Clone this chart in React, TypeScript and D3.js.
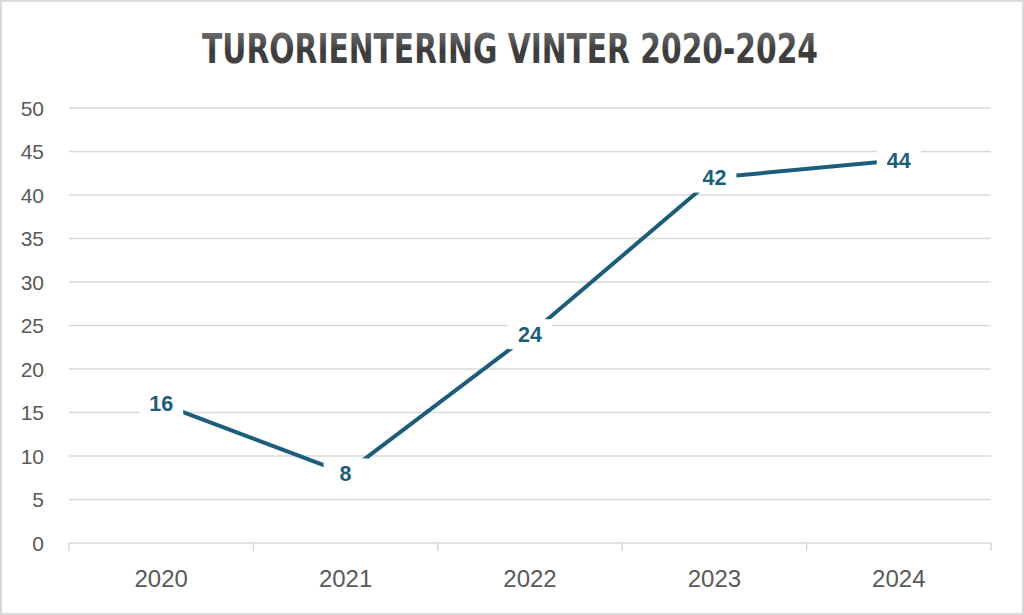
import React, { useEffect, useRef } from "react";
import * as d3 from "d3";

const categories = ["2020", "2021", "2022", "2023", "2024"];
const values = [16, 8, 24, 42, 44];
const yTicks = [0, 5, 10, 15, 20, 25, 30, 35, 40, 45, 50];
const title = "TURORIENTERING VINTER 2020-2024";

const W = 1024;
const H = 615;
const LINE_COLOR = "#1b5e7c";
const GRID = "#d9d9d9";
const TEXT = "#595959";

export default function App() {
  const ref = useRef<SVGSVGElement | null>(null);
  document.body.style.margin = "0";

  useEffect(() => {
    const svg = d3.select(ref.current);
    svg.selectAll("*").remove();

    const x0 = 69, x1 = 991, yTop = 108, yBot = 543;
    const x = d3.scaleBand().domain(categories).range([x0, x1]).padding(0);
    const y = d3.scaleLinear().domain([0, 50]).range([yBot, yTop]);
    const cx = (c: string) => (x(c) as number) + x.bandwidth() / 2;

    svg.append("rect").attr("x", 0).attr("y", 0).attr("width", W).attr("height", H).attr("fill", "#fff");
    svg.append("rect").attr("x", 1).attr("y", 1).attr("width", W - 2).attr("height", H - 2)
      .attr("fill", "none").attr("stroke", GRID).attr("stroke-width", 2);

    const defs = svg.append("defs");
    const grad = defs.append("linearGradient").attr("id", "tg").attr("x1", 0).attr("y1", 0).attr("x2", 0).attr("y2", 1);
    grad.append("stop").attr("offset", "0%").attr("stop-color", "#7a7a7a");
    grad.append("stop").attr("offset", "55%").attr("stop-color", "#3a3a3a");
    grad.append("stop").attr("offset", "100%").attr("stop-color", "#4a4a4a");

    svg.append("text").attr("x", 510).attr("y", 63).attr("text-anchor", "middle")
      .attr("font-family", "'DejaVu Sans Condensed', 'DejaVu Sans', sans-serif")
      .attr("font-stretch", "condensed")
      .attr("font-weight", "bold").attr("font-size", 40)
      .attr("textLength", 616).attr("lengthAdjust", "spacingAndGlyphs")
      .attr("fill", "url(#tg)").text(title);

    // gridlines
    svg.append("g").selectAll("line").data(yTicks.filter((t) => t > 0)).join("line")
      .attr("x1", x0).attr("x2", x1).attr("y1", (d) => y(d)).attr("y2", (d) => y(d))
      .attr("stroke", GRID).attr("stroke-width", 1.5);

    // baseline + ticks
    svg.append("line").attr("x1", x0).attr("x2", x1).attr("y1", yBot).attr("y2", yBot)
      .attr("stroke", GRID).attr("stroke-width", 1.5);
    const bounds = categories.map((c) => x(c) as number).concat([x1]);
    svg.append("g").selectAll("line").data(bounds).join("line")
      .attr("x1", (d) => d).attr("x2", (d) => d).attr("y1", yBot).attr("y2", yBot + 8)
      .attr("stroke", GRID).attr("stroke-width", 1.5);

    // y labels
    svg.append("g").selectAll("text").data(yTicks).join("text")
      .attr("x", 44).attr("y", (d) => y(d) + 7.5).attr("text-anchor", "end")
      .attr("font-family", "'Liberation Sans', Arial, sans-serif").attr("font-size", 21)
      .attr("fill", TEXT).text((d) => String(d));

    // x labels
    svg.append("g").selectAll("text").data(categories).join("text")
      .attr("x", (d) => cx(d)).attr("y", 587).attr("text-anchor", "middle")
      .attr("font-family", "'Liberation Sans', Arial, sans-serif").attr("font-size", 24)
      .attr("fill", TEXT).text((d) => d);

    // line
    const pts: [number, number][] = categories.map((c, i) => [cx(c), y(values[i])]);
    svg.append("path").attr("d", d3.line()(pts) as string).attr("fill", "none")
      .attr("stroke", LINE_COLOR).attr("stroke-width", 4).attr("stroke-linejoin", "round");

    // data labels
    const lg = svg.append("g");
    pts.forEach(([px, py], i) => {
      const label = String(values[i]);
      const w = Math.max(label.length * 11 + 22, 44);
      const h = 30;
      lg.append("rect").attr("x", px - w / 2).attr("y", py - h / 2).attr("width", w).attr("height", h)
        .attr("fill", "#fff");
      lg.append("text").attr("x", px).attr("y", py + 7.5).attr("text-anchor", "middle")
        .attr("font-family", "'Liberation Sans', Arial, sans-serif").attr("font-weight", "bold")
        .attr("font-size", 21.5).attr("fill", LINE_COLOR).text(label);
    });
  }, []);

  return <svg ref={ref} width={W} height={H} style={{ display: "block" }} />;
}
